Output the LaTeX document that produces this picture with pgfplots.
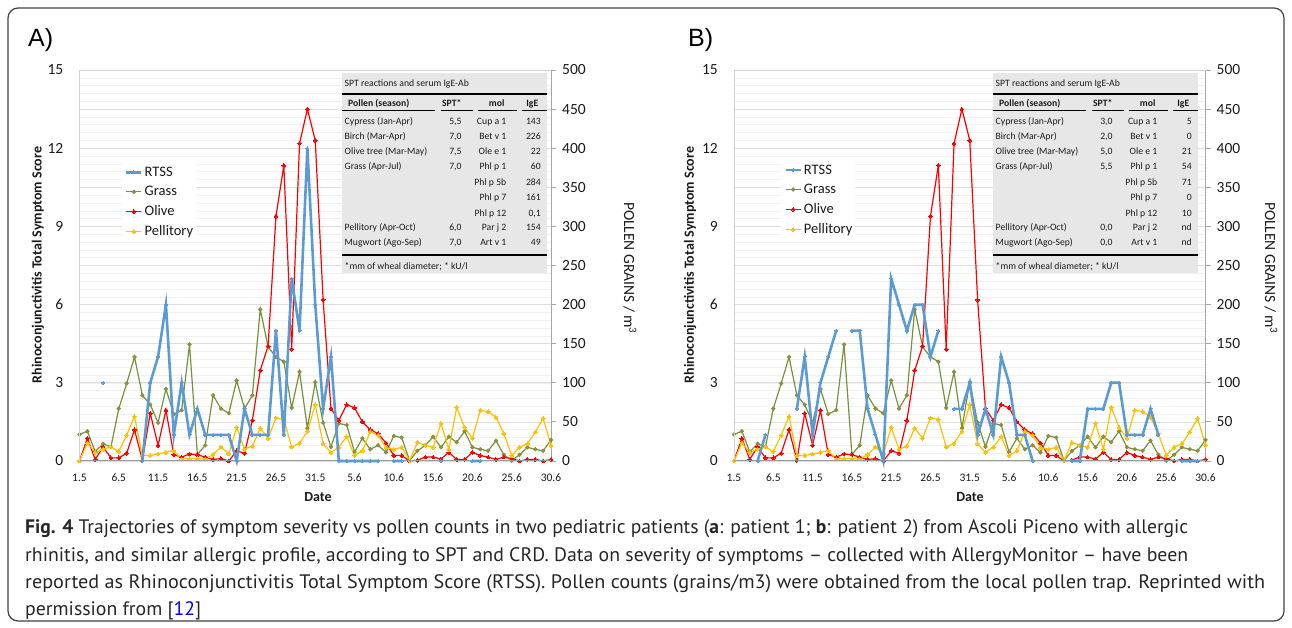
\documentclass[border=0pt]{standalone}
\usepackage{graphicx}
\usepackage{pgfplots}
\pgfplotsset{compat=1.18}
\usepackage{pgfplotstable}
\usepackage{fontspec}
\setmainfont{Carlito}
\newfontfamily\capfont{PT Sans}
\newfontfamily\arialfont{Liberation Sans}
\definecolor{cRTSS}{HTML}{5B9BD5}
\definecolor{cGrass}{HTML}{76923C}
\definecolor{cGrassM}{HTML}{B08338}
\definecolor{cOlive}{HTML}{FF0000}
\definecolor{cPell}{HTML}{FFC000}
\definecolor{txt}{HTML}{1A1A1A}
\definecolor{tabbg}{HTML}{E7E7E7}

\pgfplotstableread{
d grass olive pell rA rB
0 34 0 0 nan nan
1 38 29 23 nan nan
2 12 2 11 nan nan
3 22 18 15 3 0
4 18 4 18 nan 1
5 67 4 12 nan nan
6 99 10 33 nan nan
7 133 40 57 nan nan
8 84 1 7 0 2
9 72 61 7 3 4
10 49 20 9 4 1
11 92 65 11 6 3
12 60 8 13 1 4
13 65 5 2.5 3 5
14 149 9 3 1 nan
15 8.5 8 3 2 5
16 20 5 2.5 1 5
17 84 2 8 1 2
18 67 3 18 1 1
19 61 0 9 1 0
20 103 13 43 0 7
21 67 10 15 2 6
22 84 52 19 1 5
23 194 116 42 1 6
24 146 147 29 1 6
25 133 313 55 5 4
26 127 378 53 1 5
27 68 143 18 7 nan
28 114 406 22.6 5 2
29 42 450 38 12 2
30 101 410 72 6 3
31 49 206 22 2 1
32 18 67 11 4 2
33 48 52 17.5 0 1
34 46 72 31 0 4
35 11.5 68 7 0 3
36 29 50 13 0 1
37 15 40 37.5 0 1
38 20 35 33 0 0
39 11 23 17 nan nan
40 32 7 15 0 nan
41 30 7 17.5 0 nan
42 0.5 0 0.5 nan nan
43 13 1 24 nan 0
44 20 5 20 nan 0
45 31 5 17.5 nan 2
46 17.5 2.5 48 0 2
47 31 11 15 nan 2
48 24 2 68.6 nan 3
49 38 2 43 nan 3
50 17.5 11 29 0 1
51 15 7 65 0 1
52 13 5 63 nan 1
53 26 2 56 nan 2
54 8 5 35 nan 1
55 0.5 3 7 nan nan
56 8 0 17.5 nan nan
57 17.5 2 22 nan 0
58 15 2 37 nan 0
59 13 0 54.5 nan 0
60 27 2 20 nan nan
}\data

\pgfplotsset{
  legend image code/.code={\draw[mark repeat=2,mark phase=2,#1] plot coordinates {(0pt,0pt) (7.5pt,0pt) (15pt,0pt)};},
  rtss/.style={color=cRTSS, line width=2.6pt, mark=*, mark size=1.5pt, mark options={fill=cRTSS, draw=cRTSS, line width=0pt}},
  grass/.style={color=cGrass, line width=1.2pt, mark=*, mark size=1.9pt, mark options={fill=cGrassM, draw=cGrass, line width=0.5pt}},
  olive/.style={color=cOlive, line width=1.2pt, mark=*, mark size=1.9pt, mark options={fill=cOlive, draw=cOlive, line width=0pt}},
  pell/.style={color=cPell, line width=1.2pt, mark=*, mark size=1.9pt, mark options={fill=cPell, draw=cPell, line width=0pt}},
  base/.style={scale only axis, width=471.5pt, height=391pt, xmin=0, xmax=60,
    anchor=south west, clip=false, unbounded coords=jump,
    /pgf/number format/assume math mode=true},
  pollen/.style={base, ymin=0, ymax=500, axis x line=none, axis y line*=right,
    ytick={0,50,...,500}, minor ytick={10,20,...,490},
    ymajorgrids, yminorgrids,
    major grid style={draw=black!13, line width=0.7pt},
    minor grid style={draw=black!6, line width=0.5pt},
    tick align=outside, major tick length=5pt, minor tick length=0pt,
    tick style={draw=black!35, line width=0.8pt},
    axis line style={draw=black!35, line width=0.8pt},
    yticklabel style={font=\fontsize{15.5}{15.5}\selectfont, text=txt, anchor=west, inner sep=0pt, xshift=6pt},
    after end axis/.code={
      \draw[black!18, line width=0.8pt] (rel axis cs:0,0) -- (rel axis cs:0,1) -- (rel axis cs:1,1);
      \draw[black!40, line width=1.0pt] (rel axis cs:0,0) -- (rel axis cs:1,0);
    }},
  sym/.style={base, ymin=0, ymax=15, ytick={0,3,...,15}, xtick={0,5,...,60},
    xticklabels={1.5,6.5,11.5,16.5,21.5,26.5,31.5,5.6,10.6,15.6,20.6,25.6,30.6},
    major tick length=0pt, axis line style={draw=none},
    yticklabel style={font=\fontsize{15.5}{15.5}\selectfont, text=txt, anchor=east, inner sep=0pt, xshift=-16pt},
    xticklabel style={font=\fontsize{11.5}{11.5}\selectfont, text=txt, anchor=north, inner sep=0pt, yshift=-13pt},
    legend cell align=left,
    legend style={at={(0.09,0.760)}, anchor=north west, draw=none, fill=white,
      font=\fontsize{14.5}{14.5}\selectfont, row sep=8.5pt, inner sep=3pt, column sep=2pt,
      nodes={inner sep=0pt, text=txt}}},
}

\newcommand\spttable[3]{%
\begin{scope}[shift={(#1pt,0pt)}]
  \fill[tabbg] (342,73) rectangle (547,273);
  \begin{scope}[every node/.style={inner sep=0pt, text=txt, font=\fontsize{9.7}{9.7}\selectfont}]
  \node[anchor=base west] at (344.5,86.6) {SPT reactions and serum IgE-Ab};
  \draw[line width=2pt] (342,94.5) -- (547,94.5);
  \node[anchor=base west] at (348,106.8) {\bfseries Pollen (season)};
  \node[anchor=base] at (451.7,106.8) {\bfseries SPT*};
  \node[anchor=base] at (496.7,106.8) {\bfseries mol};
  \node[anchor=base] at (532.3,106.8) {\bfseries IgE};
  \draw[line width=0.8pt] (342,110.7) -- (435,110.7) (441,110.7) -- (473,110.7)
     (478,110.7) -- (517,110.7) (522,110.7) -- (547,110.7);
  \foreach \y/\nm/\ml in {125/{Cypress (Jan-Apr)}/{Cup a 1}, 139.8/{Birch (Mar-Apr)}/{Bet v 1},
     154.8/{Olive tree (Mar-May)}/{Ole e 1}, 170/{Grass (Apr-Jul)}/{Phl p 1},
     186/{}/{Phl p 5b}, 200.8/{}/{Phl p 7}, 216.3/{}/{Phl p 12},
     230.3/{Pellitory (Apr-Oct)}/{Par j 2}, 245.3/{Mugwort (Ago-Sep)}/{Art v 1}}{
     \node[anchor=base west] at (344.5,\y) {\nm};
     \node[anchor=base east] at (506.5,\y) {\ml};
  }
  \foreach \y/\v in {#2}{\node[anchor=base east] at (461.7,\y) {\v};}
  \foreach \y/\v in {#3}{\node[anchor=base east] at (541,\y) {\v};}
  \draw[line width=2pt] (342,255.5) -- (547,255.5);
  \node[anchor=base west] at (344.5,269.3) {*mm of wheal diameter; * kU/l};
  \end{scope}
\end{scope}}

\begin{document}
\begin{tikzpicture}
\useasboundingbox (0pt,0pt) rectangle (1292pt,628pt);
% ---------- Panel A ----------
\begin{axis}[pollen, at={(79.5pt,167pt)}]
  \addplot[grass] table[x=d,y=grass]{\data};
  \addplot[olive] table[x=d,y=olive]{\data};
  \addplot[pell] table[x=d,y=pell]{\data};
\end{axis}
\begin{axis}[sym, at={(79.5pt,167pt)}]
  \addplot[rtss] table[x=d,y=rA]{\data};
  \addlegendentry{RTSS}
  \addlegendimage{grass}\addlegendentry{Grass}
  \addlegendimage{olive}\addlegendentry{Olive}
  \addlegendimage{pell}\addlegendentry{Pellitory}
\end{axis}
% ---------- Panel B ----------
\begin{axis}[pollen, at={(734pt,167pt)}]
  \addplot[grass] table[x=d,y=grass]{\data};
  \addplot[olive] table[x=d,y=olive]{\data};
  \addplot[pell] table[x=d,y=pell]{\data};
\end{axis}
\begin{axis}[sym, at={(734pt,167pt)}, legend style={at={(0.1,0.766)}}]
  \addplot[rtss] table[x=d,y=rB]{\data};
  \addlegendentry{RTSS}
  \addlegendimage{grass}\addlegendentry{Grass}
  \addlegendimage{olive}\addlegendentry{Olive}
  \addlegendimage{pell}\addlegendentry{Pellitory}
\end{axis}
% ---------- decorations in image coordinates ----------
\begin{scope}[x=1pt,y=-1pt,shift={(0pt,628pt)}]
  \draw[rounded corners=10pt, line width=1.2pt, black!75] (8,8) rectangle (1284,621);
  \node[anchor=base west, inner sep=0pt, font=\arialfont\fontsize{25}{25}\selectfont] at (28,46.5) {A)};
  \node[anchor=base west, inner sep=0pt, font=\arialfont\fontsize{25}{25}\selectfont] at (688,46.5) {B)};
  \node[rotate=90, inner sep=0pt, text=txt, font=\bfseries\fontsize{14}{14}\selectfont] at (38,265) {Rhinoconjunctivitis Total Symptom Score};
  \node[rotate=90, inner sep=0pt, text=txt, font=\bfseries\fontsize{14}{14}\selectfont] at (690,265) {Rhinoconjunctivitis Total Symptom Score};
  \node[rotate=-90, inner sep=0pt, text=txt, font=\fontsize{15.5}{15.5}\selectfont] at (630,268) {POLLEN GRAINS / m\textsuperscript{3}};
  \node[rotate=-90, inner sep=0pt, text=txt, font=\fontsize{15.5}{15.5}\selectfont] at (1271,268) {POLLEN GRAINS / m\textsuperscript{3}};
  \node[inner sep=0pt, text=txt, font=\bfseries\fontsize{14}{14}\selectfont] at (318,497) {Date};
  \node[inner sep=0pt, text=txt, font=\bfseries\fontsize{14}{14}\selectfont] at (970,497) {Date};
  \spttable{0}{125/{5{,}5},139.8/{7{,}0},154.8/{7{,}5},170/{7{,}0},230.3/{6{,}0},245.3/{7{,}0}}%
    {125/143,139.8/226,154.8/22,170/60,186/284,200.8/161,216.3/{0{,}1},230.3/154,245.3/49}
  \spttable{651}{125/{3{,}0},139.8/{2{,}0},154.8/{5{,}0},170/{5{,}5},230.3/{0{,}0},245.3/{0{,}0}}%
    {125/5,139.8/0,154.8/21,170/54,186/71,200.8/0,216.3/10,230.3/nd,245.3/nd}
  \begin{scope}[every node/.style={anchor=base west, inner sep=0pt, text=black!85, font=\capfont\fontsize{19.5}{19.5}\selectfont}]
  \node at (25,534) {\resizebox{1163pt}{\height}{\textbf{Fig. 4} Trajectories of symptom severity vs pollen counts in two pediatric patients (\textbf{a}: patient 1; \textbf{b}: patient 2) from Ascoli Piceno with allergic}};
  \node at (25,561.5) {\resizebox{1163pt}{\height}{rhinitis, and similar allergic profile, according to SPT and CRD. Data on severity of symptoms – collected with AllergyMonitor – have been}};
  \node at (25,589) {\resizebox{1240pt}{\height}{reported as Rhinoconjunctivitis Total Symptom Score (RTSS). Pollen counts (grains/m3) were obtained from the local pollen trap. Reprinted with}};
  \node at (25,616) {\resizebox{176pt}{\height}{permission from [\textcolor{blue}{12}]}};
  \end{scope}
\end{scope}
\end{tikzpicture}
\end{document}
